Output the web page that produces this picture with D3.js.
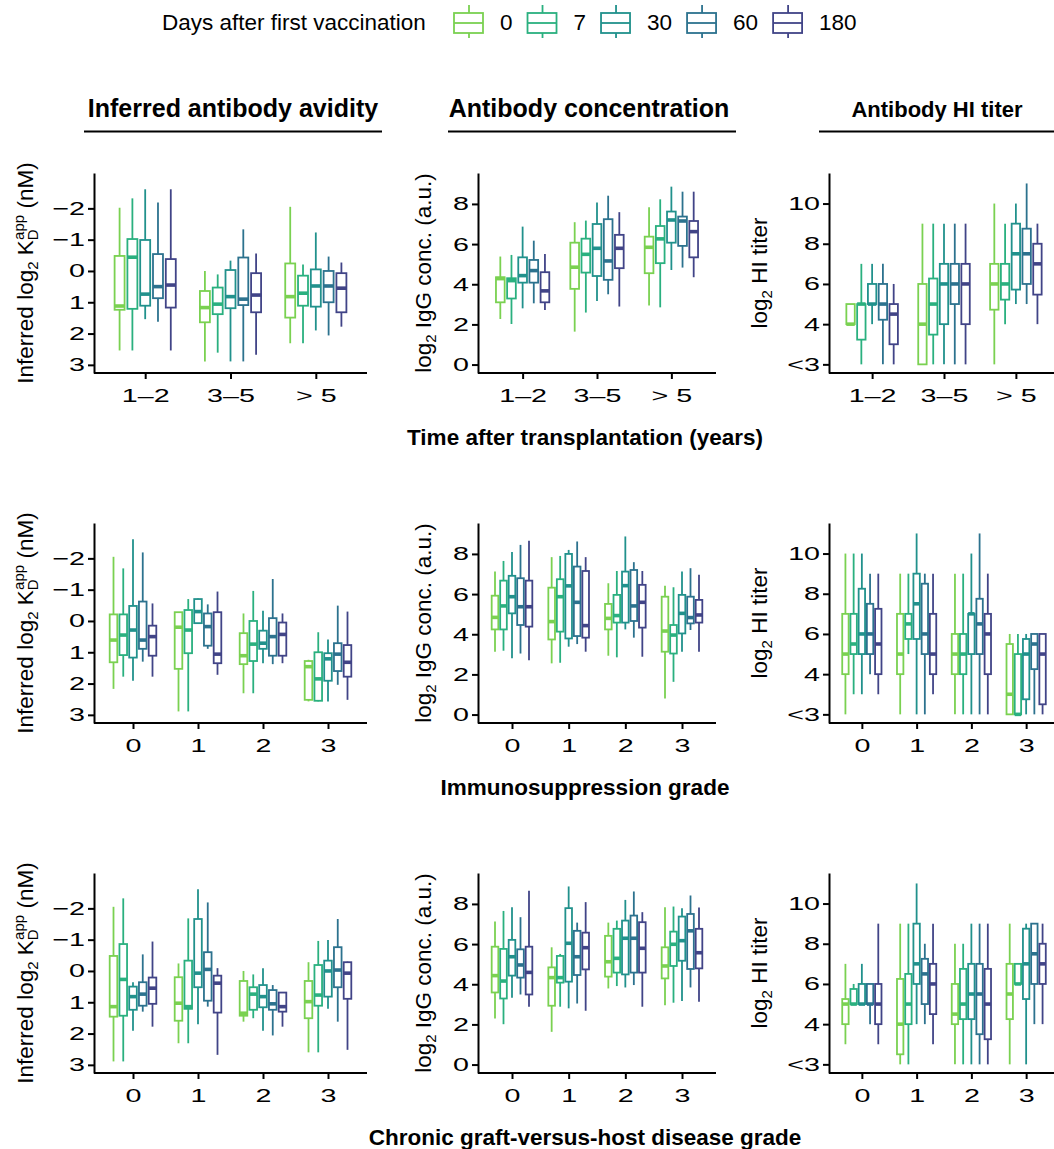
<!DOCTYPE html>
<html>
<head>
<meta charset="utf-8">
<script src="https://cdn.jsdelivr.net/npm/d3@7"></script>
<style>
  body { margin: 0; background: #fff; }
  svg { display: block; font-family: "Liberation Sans", Arial, Helvetica, sans-serif; }
</style>
</head>
<body>
<div id="chart"></div>
<script>
// days after first vaccination, one box per day in every group
var days = ['0', '7', '30', '60', '180'];
var dayColors = ['#7AD151', '#2AB07F', '#21918C', '#2C728E', '#414487'];

var timeCats = ['1–2', '3–5', '> 5'];
var gradeCats = ['0', '1', '2', '3'];

var avidityTicks = [-2, -1, 0, 1, 2, 3];
var concTicks = [0, 2, 4, 6, 8];
var hiTicks = [2, 4, 6, 8, 10];
var hiTickLabels = ['<3', '4', '6', '8', '10'];

// every box is [lower whisker, q1, median, q3, upper whisker]
var avidityTime = [
  [[-2.02,-0.48,1.12,1.24,2.54],[-2.32,-1.02,-0.44,1.21,2.54],[-2.61,-0.99,0.74,1.11,1.54],[-2.19,-0.54,0.50,0.87,1.62],[-2.61,-0.38,0.45,1.17,2.54]],
  [[0.00,0.64,1.17,1.64,2.89],[0.11,0.53,1.06,1.38,2.61],[-0.33,-0.03,0.82,1.19,2.89],[-1.33,-0.43,0.90,1.09,2.89],[-0.56,0.07,0.77,1.32,2.68]],
  [[-2.05,-0.24,0.82,1.49,2.31],[-0.21,0.15,0.71,1.11,2.31],[-1.23,-0.05,0.48,1.14,1.90],[-0.46,0.00,0.48,1.00,2.06],[-0.27,0.07,0.55,1.32,1.78]]
];
var concTime = [
  [[2.27,3.10,4.28,4.35,5.38],[2.02,3.29,4.18,4.30,5.46],[2.80,4.08,4.43,5.34,6.87],[3.05,4.08,4.68,5.21,6.17],[2.72,3.10,3.67,4.60,5.51]],
  [[1.64,3.77,4.85,6.07,7.09],[2.59,4.58,5.49,6.27,7.17],[3.17,4.41,5.79,7.00,8.07],[3.50,4.22,5.16,7.24,8.41],[2.89,4.80,5.79,6.46,7.59]],
  [[2.94,4.55,5.84,6.37,7.83],[2.85,5.05,6.26,6.90,8.23],[4.71,6.07,7.20,7.62,8.86],[4.83,5.91,7.15,7.37,8.61],[4.35,5.34,6.62,7.15,8.61]]
];
var hiTime = [
  [[4,4,4,5,5],[2,3.23,5,5,7],[4,5,5,6,7],[2,4.22,5,6,7],[2,3,4.5,5,6]],
  [[2,2,4,6,9],[2,3.48,5,6.27,9],[2,4,6,7,9],[2,5,6,7,9],[2,4,6,7,9]],
  [[2,4.72,6,7,10],[4,5.22,6,7,9],[5,5.72,7.5,9,10],[5,6,7.5,8.75,11],[4,5.47,7,8,9]]
];

var avidityImmuno = [
  [[-2.05,-0.21,0.61,1.32,2.17],[-1.68,-0.21,0.45,1.09,1.78],[-2.61,-0.48,0.29,1.17,1.91],[-2.19,-0.62,0.61,0.89,1.30],[-0.56,0.15,0.50,1.11,1.78]],
  [[-0.28,-0.28,0.20,1.53,2.89],[-0.70,-0.35,0.29,1.03,2.89],[-0.72,-0.70,-0.30,0.07,0.07],[-0.53,-0.24,0.18,0.79,0.89],[-0.94,-0.28,1.06,1.35,1.72]],
  [[-0.24,0.39,1.11,1.38,2.31],[-0.96,0.00,0.74,1.28,2.31],[-0.33,0.31,0.71,0.89,1.35],[-1.34,-0.09,0.50,1.11,1.38],[-0.24,0.05,0.43,1.11,1.35]],
  [[1.24,1.28,1.46,2.52,2.57],[0.36,1.00,1.85,2.55,2.57],[0.59,1.03,1.21,1.91,2.57],[-0.49,0.71,1.06,1.60,2.04],[-0.30,0.77,1.32,1.78,2.52]]
];
var concImmuno = [
  [[3.13,4.24,4.84,5.92,7.12],[3.18,4.24,5.41,6.67,7.65],[2.80,5.04,5.87,6.91,8.09],[3.04,4.46,5.37,6.79,8.45],[2.71,4.38,5.37,6.67,8.65]],
  [[2.55,3.74,4.63,6.32,7.84],[2.58,4.13,5.87,6.74,7.90],[3.38,3.79,6.41,8.00,8.20],[3.51,3.91,5.59,7.37,8.62],[3.13,3.83,4.43,7.15,7.84]],
  [[2.93,4.24,4.79,5.51,6.54],[2.85,4.58,4.93,5.96,7.15],[4.24,4.58,6.42,7.12,8.87],[3.83,4.66,5.41,7.20,7.59],[2.88,4.33,5.59,6.46,7.15]],
  [[0.80,3.13,4.16,5.87,6.42],[1.63,3.04,3.96,4.46,6.34],[3.13,4.04,5.04,5.96,7.12],[4.21,4.54,4.83,5.87,7.29],[3.13,4.58,4.96,5.71,6.96]]
];
var hiImmuno = [
  [[2,4,5,7,10],[3,5,5.5,7,10],[3,5,6,8.25,10],[4,5,6,7.5,9],[3,4,5.5,7.25,9]],
  [[2,4,5,7,9],[5,5.75,6.5,7,9],[2,5.75,7.5,9,11],[2,5,6,8.5,9],[3,4,5,7,9]],
  [[2,4,5,6,9],[2,4,5,6,9],[2,5,7,7,10],[2,5,6.5,7.75,11],[2,4,6,7,9]],
  [[2,2,3,5.5,6],[2,2,2,5,6],[2,2.75,5,5.75,6],[2,4.25,5.5,6,6],[2,2.5,5,6,6]]
];

var avidityGvhd = [
  [[-2.05,-0.48,1.14,1.46,2.89],[-2.32,-0.86,0.27,1.43,2.89],[0.36,0.50,0.82,1.24,1.91],[-0.53,0.36,0.74,1.11,1.30],[-0.94,0.21,0.55,1.05,1.78]],
  [[-0.24,0.20,1.03,1.59,2.31],[-1.68,-0.33,1.14,1.21,2.31],[-2.61,-1.66,0.07,0.52,1.70],[-2.19,-0.60,-0.05,0.95,1.14],[-0.09,0.15,0.39,1.33,2.68]],
  [[0.00,0.32,1.35,1.43,1.62],[0.11,0.52,0.74,1.24,1.51],[-0.09,0.45,0.82,1.16,1.91],[0.45,0.61,1.05,1.24,2.06],[0.69,0.69,1.14,1.30,1.78]],
  [[-0.28,0.32,0.98,1.51,2.60],[-0.96,-0.19,0.77,1.11,2.60],[-0.99,-0.33,0.00,0.82,1.21],[-1.66,-0.76,-0.03,0.52,1.62],[-0.30,-0.28,0.07,0.89,2.52]]
];
var concGvhd = [
  [[2.30,3.59,4.43,5.87,7.12],[2.01,3.29,4.16,5.76,7.65],[3.33,4.43,5.37,6.21,7.84],[3.49,4.33,4.96,5.74,7.34],[2.88,3.49,4.59,5.87,8.65]],
  [[1.63,2.93,4.33,4.84,5.84],[2.88,4.08,4.33,5.41,5.51],[2.80,4.13,6.04,7.79,8.87],[3.04,4.46,5.37,6.66,7.07],[2.68,4.74,5.82,6.57,8.09]],
  [[3.79,4.38,5.12,6.41,7.07],[3.91,4.58,5.29,6.76,7.17],[3.84,4.49,6.29,7.17,8.20],[3.96,4.58,6.29,7.42,8.62],[2.88,4.58,5.79,7.09,7.59]],
  [[2.96,4.29,4.91,5.84,7.84],[3.08,4.91,5.99,6.62,7.87],[3.16,5.17,6.17,7.37,7.79],[3.84,4.76,6.66,7.50,8.42],[3.13,4.79,5.57,6.76,7.82]]
];
var hiGvhd = [
  [[3,4,5,5.25,7],[5,5,5,5.75,6],[5,5,5,6,7],[4,5,5,6,6],[3,4,5,6,9]],
  [[2,2.5,4,6.25,9],[2,4,5,6.5,9],[4,6,7,9,11],[4,5,6.5,7.25,8],[3,4.5,6,7,9]],
  [[2,4,4.5,6,8],[2,4.25,5,6.75,8],[2,4.25,5.5,7,9],[2,3.5,5.5,7,9],[2,3.25,5,6.75,9]],
  [[2,4.25,5.5,7,9],[6,6,6,7,7],[2,5.25,7,8.75,9],[4,6,7.5,9,9],[4,6,7,8,9]]
];

var colTitles = ['Inferred antibody avidity', 'Antibody concentration', 'Antibody HI titer'];
var rowTitles = ['Time after transplantation (years)', 'Immunosuppression grade', 'Chronic graft-versus-host disease grade'];

// layout
var W = 1054, H = 1149,
    panelH = 200,
    rowTop = [173, 523, 873],
    colLeft = [94, 478, 829],
    colRight = [367, 716, 1059],
    tickStretch = 1.55,
    tickFs = 18.5,
    labelFs = 22.5;

var svg = d3.select('#chart').append('svg')
    .attr('width', W)
    .attr('height', H);

var rows = [
  { cats: timeCats, data: [avidityTime, concTime, hiTime] },
  { cats: gradeCats, data: [avidityImmuno, concImmuno, hiImmuno] },
  { cats: gradeCats, data: [avidityGvhd, concGvhd, hiGvhd] }
];

function makeY(col, top) {
  if (col === 0) return d3.scaleLinear().domain([-3.13, 3.26]).range([top, top + panelH]);
  if (col === 1) return d3.scaleLinear().domain([-0.42, 9.54]).range([top + panelH, top]);
  return d3.scaleLinear().domain([1.57, 11.52]).range([top + panelH, top]);
}

function yAxisFor(col, y) {
  var ax = d3.axisLeft(y).tickSize(6).tickPadding(3).tickSizeOuter(0);
  if (col === 0) return ax.tickValues(avidityTicks).tickFormat(d3.format('d'));
  if (col === 1) return ax.tickValues(concTicks).tickFormat(d3.format('d'));
  return ax.tickValues(hiTicks).tickFormat(function(d, i) { return hiTickLabels[i]; });
}

function styleAxis(g) {
  g.select('.domain').attr('stroke', '#000').attr('stroke-width', 2);
  g.selectAll('.tick line').attr('stroke', '#000').attr('stroke-width', 2);
  g.selectAll('.tick text')
    .attr('fill', '#000')
    .attr('font-size', tickFs)
    .attr('transform', 'scale(' + tickStretch + ',1)');
}

rows.forEach(function(row, ri) {
  var top = rowTop[ri];

  row.data.forEach(function(data, ci) {
    var y = makeY(ci, top),
        x = d3.scalePoint().domain(row.cats).range([colLeft[ci], colRight[ci]]).padding(0.6),
        slot = x.step() * 0.15,
        bw = slot * 0.78;

    var g = svg.append('g');

    var recs = [];
    row.cats.forEach(function(c, k) {
      data[k].forEach(function(s, d) {
        recs.push({ cat: c, day: d, s: s });
      });
    });

    var box = g.selectAll('g.box')
        .data(recs)
      .enter().append('g')
        .attr('class', 'box')
        .attr('stroke', function(d) { return dayColors[d.day]; })
        .attr('fill', 'none');

    function cx(d) { return x(d.cat) + (d.day - 2) * slot; }

    // whisker
    box.append('line')
        .attr('x1', cx).attr('x2', cx)
        .attr('y1', function(d) { return y(d.s[0]); })
        .attr('y2', function(d) { return y(d.s[4]); })
        .attr('stroke-width', 1.8);

    // box
    box.append('rect')
        .attr('x', function(d) { return cx(d) - bw / 2; })
        .attr('width', bw)
        .attr('y', function(d) { return Math.min(y(d.s[1]), y(d.s[3])); })
        .attr('height', function(d) { return Math.abs(y(d.s[1]) - y(d.s[3])); })
        .attr('fill', '#fff')
        .attr('stroke-width', 1.8);

    // median
    box.append('line')
        .attr('x1', function(d) { return cx(d) - bw / 2; })
        .attr('x2', function(d) { return cx(d) + bw / 2; })
        .attr('y1', function(d) { return y(d.s[2]); })
        .attr('y2', function(d) { return y(d.s[2]); })
        .attr('stroke-width', 3.6);

    // axes
    var gy = g.append('g')
        .attr('transform', 'translate(' + colLeft[ci] + ',0)')
        .call(yAxisFor(ci, y))
        .call(styleAxis);
    gy.selectAll('.tick text').attr('x', -9 / tickStretch);

    var gx = g.append('g')
        .attr('transform', 'translate(0,' + (top + panelH) + ')')
        .call(d3.axisBottom(x).tickSize(6).tickPadding(10).tickSizeOuter(0))
        .call(styleAxis);
    gx.select('.domain').attr('d', 'M' + colLeft[ci] + ',0H' + colRight[ci]);

    // y axis title
    var ty = g.append('text')
        .attr('transform', 'translate(' + (colLeft[ci] - [61, 47, 62][ci]) + ',' + (top + panelH / 2) + ') rotate(-90)')
        .attr('text-anchor', 'middle')
        .attr('font-size', labelFs)
        .attr('fill', '#000');
    if (ci === 0) {
      ty.append('tspan').text('Inferred log');
      ty.append('tspan').attr('font-size', 15).attr('dy', 5).text('2');
      ty.append('tspan').attr('dy', -5).text(' K');
      ty.append('tspan').attr('font-size', 15).attr('dy', 5).text('D');
      ty.append('tspan').attr('font-size', 15).attr('dx', -10.5).attr('dy', -14).text('app');
      ty.append('tspan').attr('dy', 9).text(' (nM)');
    } else {
      ty.append('tspan').text('log');
      ty.append('tspan').attr('font-size', 15).attr('dy', 5).text('2');
      ty.append('tspan').attr('dy', -5).text(ci === 1 ? ' IgG conc. (a.u.)' : ' HI titer');
    }
  });

  // row title
  svg.append('text')
    .attr('x', 585)
    .attr('y', top + panelH + 72)
    .attr('text-anchor', 'middle')
    .attr('font-size', 22.5)
    .attr('font-weight', 'bold')
    .text(rowTitles[ri]);
});

// column headers with underline
var headerCx = [233, 589, 937],
    headerFs = [25, 25, 22],
    lineX = [[84, 382], [448, 736], [819, 1060]];
colTitles.forEach(function(t, i) {
  svg.append('text')
    .attr('x', headerCx[i])
    .attr('y', 117)
    .attr('text-anchor', 'middle')
    .attr('font-size', headerFs[i])
    .attr('font-weight', 'bold')
    .text(t);
  svg.append('line')
    .attr('x1', lineX[i][0]).attr('x2', lineX[i][1])
    .attr('y1', 131.5).attr('y2', 131.5)
    .attr('stroke', '#000')
    .attr('stroke-width', 1.8);
});

// legend
var legend = svg.append('g');
legend.append('text')
  .attr('x', 162)
  .attr('y', 30)
  .attr('font-size', labelFs)
  .text('Days after first vaccination');

var lx = 454;
days.forEach(function(d, i) {
  var k = legend.append('g').attr('stroke', dayColors[i]).attr('fill', 'none').attr('stroke-width', 1.8);
  k.append('line').attr('x1', lx + 15).attr('x2', lx + 15).attr('y1', 5).attr('y2', 38);
  k.append('rect').attr('x', lx).attr('y', 13).attr('width', 29).attr('height', 20).attr('fill', '#fff');
  k.append('line').attr('x1', lx).attr('x2', lx + 29).attr('y1', 23).attr('y2', 23);
  var t = legend.append('text')
    .attr('x', lx + 46)
    .attr('y', 30)
    .attr('font-size', labelFs)
    .text(d);
  lx = lx + 46 + t.node().getComputedTextLength() + 15;
});
</script>
</body>
</html>
